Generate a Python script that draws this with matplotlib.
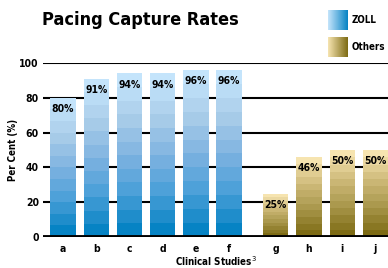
import numpy as np
import matplotlib
matplotlib.use('Agg')
import matplotlib.pyplot as plt
from matplotlib.colors import LinearSegmentedColormap

#Pacing capture rates, ZOLL vs others
Studies=['a','b','c','d','e','f','g','h','i','j']
Values=[80,91,94,94,96,96,25,46,50,50]
Groups=['ZOLL']*6+['Others']*4
Positions=[0,1,2,3,4,5,6.4,7.4,8.4,9.4]
YTicks=[0,20,40,60,80,100]

NBands=12
BarWidth=0.76
Cmaps={'ZOLL':LinearSegmentedColormap.from_list('zoll',['#0683c4','#4a9fd8','#7fb3e0','#a9cde9','#c4e4fb']),
       'Others':LinearSegmentedColormap.from_list('oth',['#7d6b14','#a8964a','#cdb978','#f6e4b0'])}
Font=dict(family='DejaVu Sans',fontstretch='condensed',fontweight='bold')

fig=plt.figure(figsize=(3.88,2.68),dpi=100)
ax=fig.add_axes([43/388,1-237/268,345/388,174/268])

for y in YTicks[1:]:
    ax.axhline(y,color='black',lw=1.5,zorder=0)

for pos,val,grp in zip(Positions,Values,Groups):
    cm=Cmaps[grp]
    for k in range(NBands):
        ax.bar(pos,val/NBands,bottom=val*k/NBands,width=BarWidth,
               color=cm(k/(NBands-1)),lw=0,zorder=2)
    ax.text(pos,val-6.5,'%d%%'%val,ha='center',va='center',fontsize=7.5,zorder=3,**Font)

ax.axhline(0,color='black',lw=3.5,zorder=4)
ax.set_xlim(-0.6,9.78)
ax.set_ylim(0,100)
ax.set_xticks(Positions)
ax.set_xticklabels(Studies,**Font,fontsize=7.5)
ax.set_yticks(YTicks)
ax.set_yticklabels([str(t) for t in YTicks],**Font,fontsize=7.5)
ax.tick_params(length=0,pad=5)
ax.tick_params(axis='y',pad=3)
for s in ax.spines.values():
    s.set_visible(False)
ax.set_ylabel('Per Cent (%)',fontsize=7,labelpad=1,**Font)
ax.set_xlabel('Clinical Studies$^{3}$',fontsize=7,labelpad=0,**Font)

fig.text(42/388,1-20/268,'Pacing Capture Rates',fontsize=13,va='center',ha='left',**Font)

#legend swatches with horizontal gradient
grad=np.linspace(0,1,64).reshape(1,-1)
for i,grp in enumerate(['ZOLL','Others']):
    top=10+i*27
    sax=fig.add_axes([328/388,1-(top+20)/268,20/388,20/268])
    sax.imshow(grad,aspect='auto',cmap=LinearSegmentedColormap.from_list('g',[Cmaps[grp](1.0),Cmaps[grp](0.0)]))
    sax.axis('off')
    fig.text(352/388,1-(top+10)/268,grp,fontsize=7,va='center',ha='left',**Font)

fig.savefig('out.png',dpi=100)
